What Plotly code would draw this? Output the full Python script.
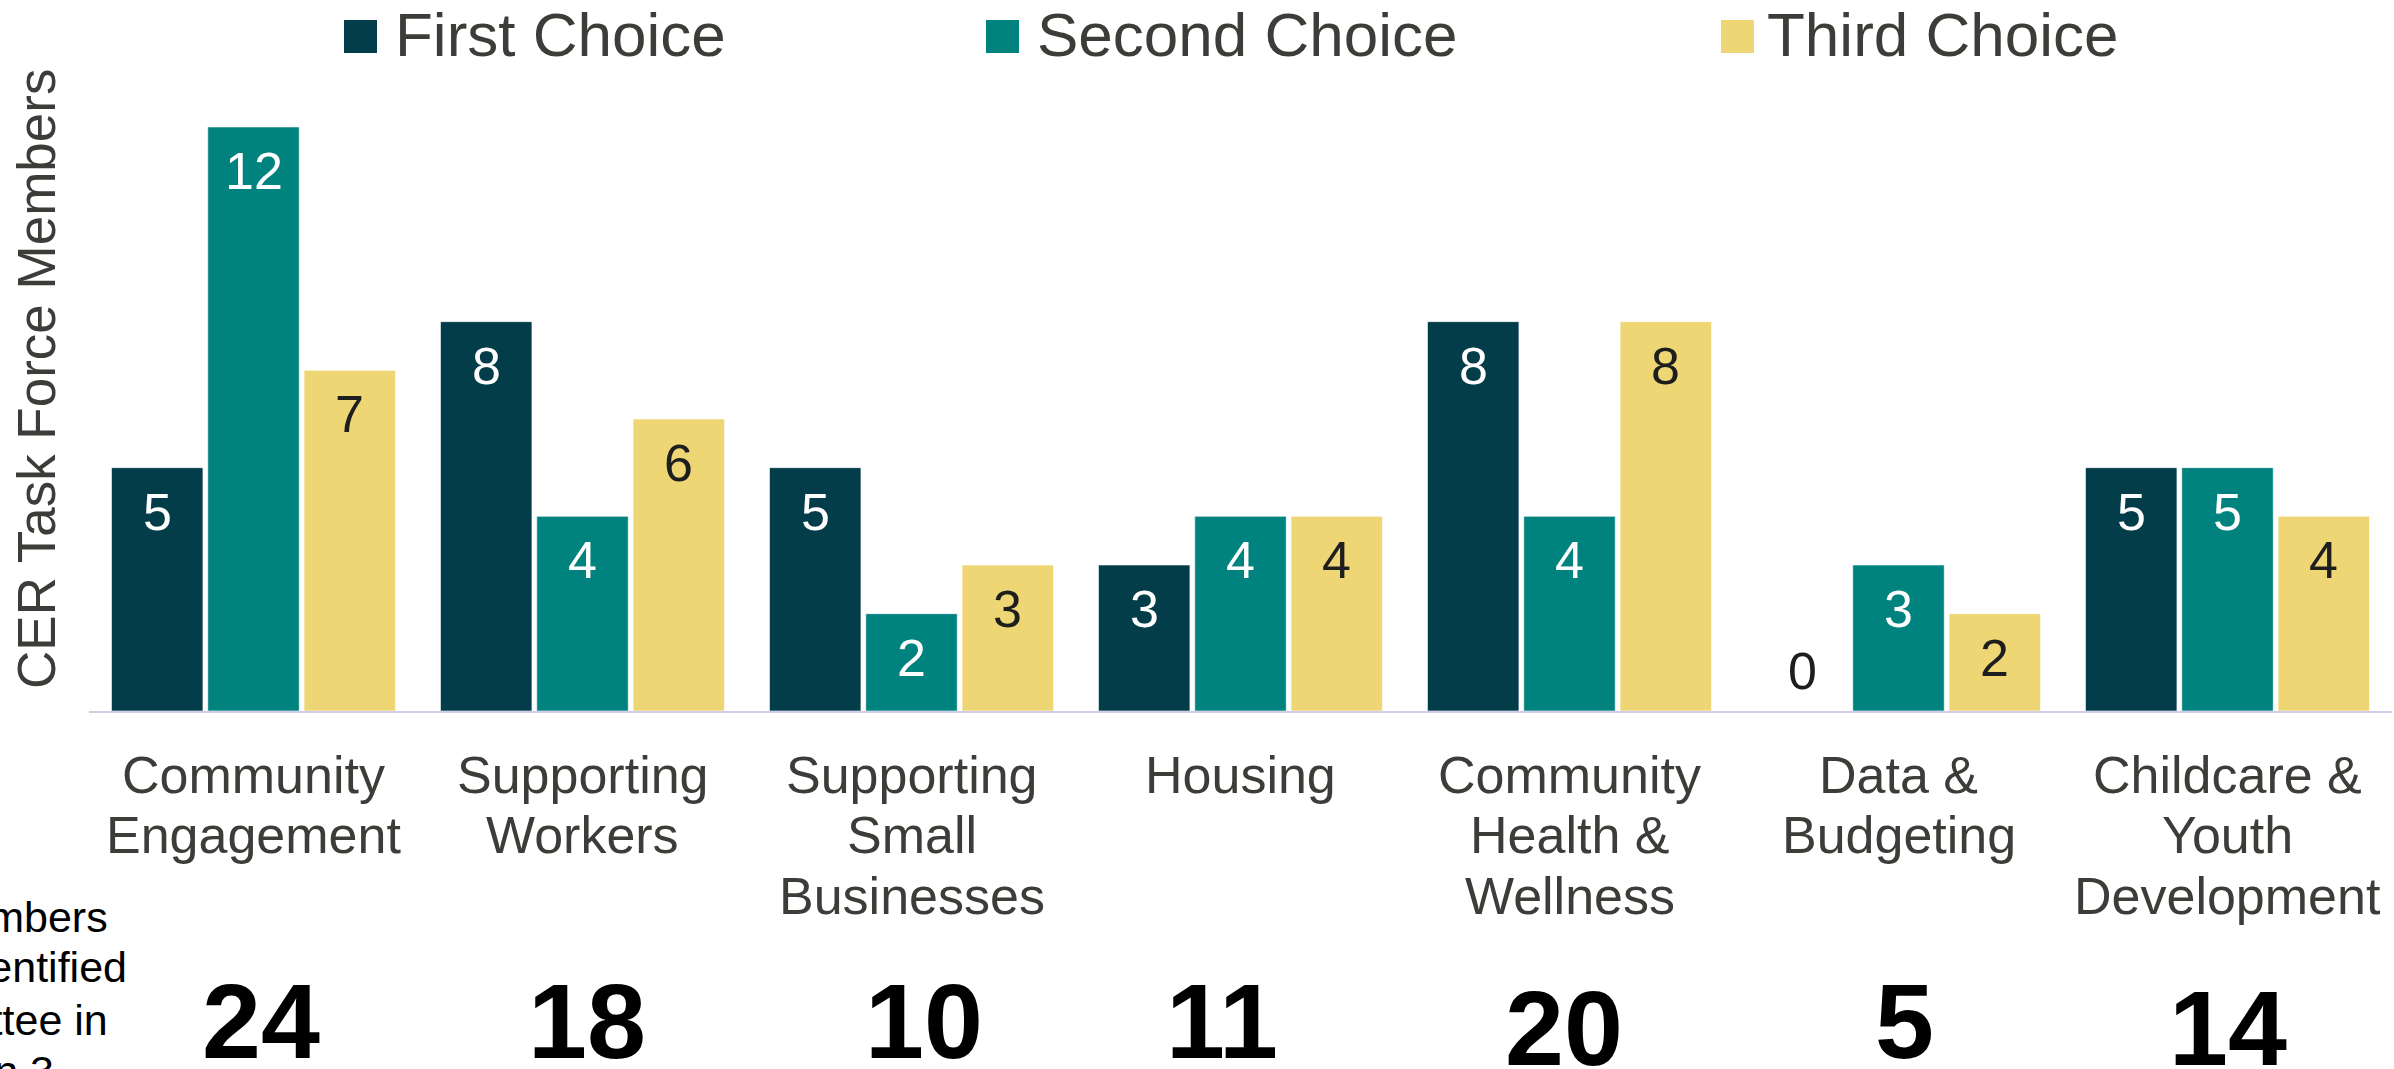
import plotly.graph_objects as go

# ---------------- data ----------------
categories = [
    "Community Engagement",
    "Supporting Workers",
    "Supporting Small Businesses",
    "Housing",
    "Community Health & Wellness",
    "Data & Budgeting",
    "Childcare & Youth Development",
]
category_label_lines = [
    ["Community", "Engagement"],
    ["Supporting", "Workers"],
    ["Supporting", "Small", "Businesses"],
    ["Housing"],
    ["Community", "Health &", "Wellness"],
    ["Data &", "Budgeting"],
    ["Childcare &", "Youth", "Development"],
]
series_names = ["First Choice", "Second Choice", "Third Choice"]
first_choice = [5, 8, 5, 3, 8, 0, 5]
second_choice = [12, 4, 2, 4, 4, 3, 5]
third_choice = [7, 6, 3, 4, 8, 2, 4]
totals = [24, 18, 10, 11, 20, 5, 14]
y_title = "CER Task Force Members"
side_note_lines = ["TF Members", "who identified", "committee in", "Question 3"]

# ---------------- style ----------------
W, H = 2394, 1069
ML, MR, MT = 89, 2, 100
PLOT_BOTTOM = 711
MB = H - PLOT_BOTTOM
PLOT_W = W - ML - MR
PLOT_H = PLOT_BOTTOM - MT
PX_PER_UNIT = 48.67
BARGAP = 0.122
BARGROUPGAP = 0.05
FONT = "Liberation Sans, Arial, Helvetica, sans-serif"
colors = ["#033d4a", "#00827f", "#efd674"]
label_colors = ["#ffffff", "#ffffff", "#1e1e1e"]
text_gray = "#3c3c38"


def px2x(px):
    return (px - ML) / PLOT_W


def px2y(py):
    return (PLOT_BOTTOM - py) / PLOT_H


series_values = [first_choice, second_choice, third_choice]

fig = go.Figure()
for name, vals, col in zip(series_names, series_values, colors):
    fig.add_trace(go.Bar(
        name=name,
        x=categories,
        y=vals,
        marker=dict(color=col, line=dict(color="rgba(255,255,255,0.6)", width=1)),
        showlegend=False,
        hovertemplate="%{x}<br>" + name + ": %{y}<extra></extra>",
    ))

annotations = []
shapes = []

# value labels, anchored to each bar via the axis scale
slot_px = PLOT_W / len(categories) * (1 - BARGAP) / len(series_names)
for si, (vals, lcol) in enumerate(zip(series_values, label_colors)):
    xs = (si - (len(series_names) - 1) / 2) * slot_px
    for cat, v in zip(categories, vals):
        if v == 0:
            annotations.append(dict(
                x=cat, xref="x", y=v, yref="y", xshift=xs, yshift=40,
                text=str(v), showarrow=False, xanchor="center", yanchor="middle",
                font=dict(family=FONT, size=52, color="#1e1e1e"),
            ))
        else:
            annotations.append(dict(
                x=cat, xref="x", y=v, yref="y", xshift=xs, yshift=-44,
                text=str(v), showarrow=False, xanchor="center", yanchor="middle",
                font=dict(family=FONT, size=52, color=lcol),
            ))

# category labels (one annotation per line for exact line spacing)
line_baselines = [793, 853.5, 914]
for cat, lines in zip(categories, category_label_lines):
    for i, ln in enumerate(lines):
        annotations.append(dict(
            x=cat, xref="x", y=px2y(line_baselines[i] - 0.35 * 52), yref="paper",
            text=ln, showarrow=False, xanchor="center", yanchor="middle",
            font=dict(family=FONT, size=52, color=text_gray),
        ))

# totals row
total_dy = [0, 0, 0, 0, 7, 0, 7]
total_dx = [7, 4, 12, -19, -6, 6, 0]
for cat, t, dy, dx in zip(categories, totals, total_dy, total_dx):
    annotations.append(dict(
        x=cat, xref="x", y=px2y(1058 + dy - 0.35 * 106), yref="paper", xshift=dx,
        text=f"<b>{t}</b>", showarrow=False, xanchor="center", yanchor="middle",
        font=dict(family=FONT, size=106, color="#000000"),
    ))

# side note (cut off at left edge)
note_baselines = [931.7, 981.7, 1035, 1086.5]
note_right = [110, 129, 110, 56]
for ln, b, r in zip(side_note_lines, note_baselines, note_right):
    annotations.append(dict(
        x=px2x(r), xref="paper", y=px2y(b - 0.35 * 43), yref="paper",
        text=ln, showarrow=False, xanchor="right", yanchor="middle",
        font=dict(family=FONT, size=43, color="#000000"),
    ))

# y title
annotations.append(dict(
    x=px2x(36), xref="paper", y=px2y(379), yref="paper",
    text=y_title, showarrow=False, textangle=-90, xanchor="center", yanchor="middle",
    font=dict(family=FONT, size=53, color=text_gray),
))

# manual legend
legend_sq_x = [344, 986, 1721]
legend_txt_x = [393, 1035, 1765]
for name, col, sx, tx in zip(series_names, colors, legend_sq_x, legend_txt_x):
    shapes.append(dict(
        type="rect", xref="paper", yref="paper",
        x0=px2x(sx), x1=px2x(sx + 33), y0=px2y(53), y1=px2y(20),
        fillcolor=col, line=dict(width=0),
    ))
    annotations.append(dict(
        x=px2x(tx), xref="paper", y=px2y(56 - 0.35 * 62), yref="paper",
        text=name, showarrow=False, xanchor="left", yanchor="middle",
        font=dict(family=FONT, size=62, color=text_gray),
    ))

fig.update_layout(
    width=W, height=H,
    margin=dict(l=ML, r=MR, t=MT, b=MB, pad=0),
    barmode="group", bargap=BARGAP, bargroupgap=BARGROUPGAP,
    plot_bgcolor="white", paper_bgcolor="white",
    font=dict(family=FONT, color=text_gray),
    annotations=annotations, shapes=shapes,
    showlegend=False,
)
fig.update_xaxes(type="category", showline=True, linecolor="#d0ccea", linewidth=2,
                 showticklabels=False, ticks="", showgrid=False, zeroline=False)
fig.update_yaxes(visible=False, range=[0, PLOT_H / PX_PER_UNIT], showgrid=False, zeroline=False)

fig.write_html("out.html")
